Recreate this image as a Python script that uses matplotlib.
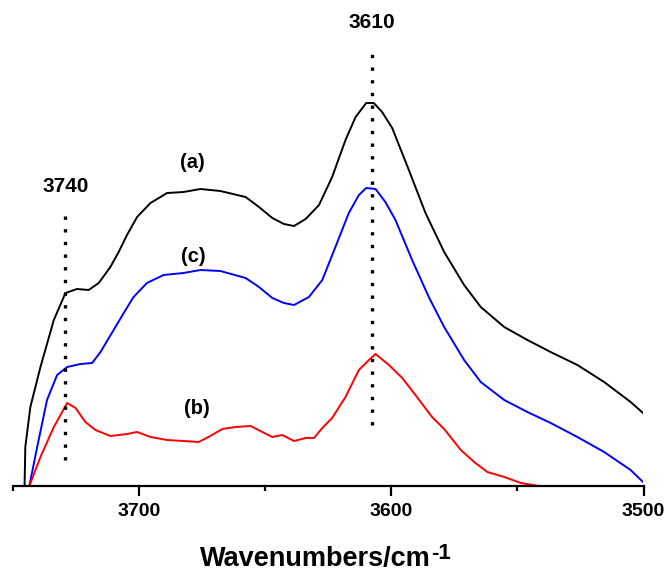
import matplotlib
matplotlib.use("Agg")
import matplotlib.pyplot as plt
from matplotlib.ticker import MultipleLocator

plt.rcParams['font.family'] = ['Liberation Sans', 'DejaVu Sans']

# ---- data (wavenumber, absorbance a.u.) ----
wn_a = [3745.3, 3745.0, 3743.0, 3739.0, 3733.7, 3729.1, 3724.5, 3719.9, 3715.9, 3711.3,
        3708.0, 3704.7, 3700.7, 3695.4, 3688.8, 3682.3, 3675.6, 3667.7, 3657.7, 3652.4,
        3647.1, 3642.5, 3638.5, 3633.9, 3628.6, 3623.4, 3618.1, 3614.1, 3609.9, 3606.9,
        3603.6, 3599.6, 3593.0, 3586.4, 3579.0, 3571.1, 3564.5, 3555.2, 3546.0, 3536.8,
        3526.2, 3515.6, 3505.1, 3500.2]
abs_a = [0.00, 0.39, 0.79, 1.19, 1.66, 1.93, 1.97, 1.96, 2.03, 2.19,
         2.34, 2.51, 2.69, 2.83, 2.93, 2.94, 2.97, 2.95, 2.89, 2.79,
         2.68, 2.62, 2.60, 2.67, 2.81, 3.09, 3.46, 3.69, 3.83, 3.83,
         3.74, 3.58, 3.16, 2.73, 2.34, 2.01, 1.79, 1.59, 1.46, 1.34,
         1.21, 1.04, 0.84, 0.73]

wn_c = [3743.4, 3740.3, 3736.4, 3732.4, 3728.4, 3723.2, 3718.5, 3715.2, 3710.0, 3706.0,
        3702.1, 3696.8, 3690.2, 3682.3, 3675.6, 3667.7, 3657.7, 3652.4, 3647.1, 3642.5,
        3638.5, 3632.6, 3627.3, 3622.1, 3616.8, 3612.8, 3609.9, 3606.2, 3602.3, 3598.3,
        3591.7, 3585.1, 3579.0, 3571.1, 3564.5, 3555.2, 3546.0, 3536.8, 3526.2, 3515.6,
        3505.1, 3500.2]
abs_c = [0.00, 0.39, 0.86, 1.11, 1.19, 1.22, 1.23, 1.34, 1.56, 1.73,
         1.89, 2.03, 2.11, 2.13, 2.16, 2.15, 2.08, 1.99, 1.88, 1.83,
         1.81, 1.89, 2.06, 2.39, 2.73, 2.91, 2.98, 2.97, 2.84, 2.66,
         2.26, 1.89, 1.59, 1.26, 1.04, 0.86, 0.74, 0.63, 0.49, 0.34,
         0.16, 0.04]

wn_b = [3743.4, 3739.0, 3733.7, 3730.4, 3728.4, 3725.1, 3721.2, 3717.2, 3711.3, 3704.7,
        3700.7, 3695.4, 3688.8, 3682.3, 3676.3, 3671.7, 3666.9, 3661.7, 3655.7, 3651.1,
        3647.1, 3643.2, 3638.5, 3633.9, 3630.6, 3627.3, 3623.4, 3618.1, 3612.8, 3608.8,
        3606.2, 3600.9, 3595.6, 3590.4, 3583.8, 3579.0, 3572.4, 3567.1, 3561.9, 3555.2,
        3548.6, 3541.4]
abs_b = [0.00, 0.29, 0.59, 0.74, 0.83, 0.78, 0.64, 0.56, 0.50, 0.52,
         0.54, 0.49, 0.46, 0.45, 0.44, 0.50, 0.57, 0.59, 0.60, 0.54,
         0.49, 0.51, 0.45, 0.48, 0.48, 0.58, 0.68, 0.89, 1.16, 1.26,
         1.32, 1.21, 1.08, 0.91, 0.69, 0.57, 0.36, 0.24, 0.14, 0.09,
         0.03, 0.00]

peak_pos = [3729.1, 3607.6]
peak_ymin = [0.26, 0.61]
peak_ymax = [2.71, 4.36]
peak_labels = ["3740", "3610"]
peak_label_y = [2.99, 4.63]

curve_labels = ["(a)", "(c)", "(b)"]
curve_label_x = [3678.9, 3678.3, 3677.0]
curve_label_y = [3.24, 2.29, 0.78]

xticks_major = [3700, 3600, 3500]

# ---- figure ----
fig = plt.figure(figsize=(6.66, 5.73), dpi=100)
ax = fig.add_axes([12.7 / 666, 87 / 573, (643.5 - 12.7) / 666, 466 / 573])

ax.plot(wn_a, abs_a, color='black', lw=1.4)
ax.plot(wn_c, abs_c, color='#0000ff', lw=1.4)
ax.plot(wn_b, abs_b, color='#ff0000', lw=1.4)

for xp, y0, y1 in zip(peak_pos, peak_ymin, peak_ymax):
    ax.plot([xp, xp], [y0, y1], color='black', lw=2.4, linestyle=(0, (1, 2.8)))

for lab, xp, yl in zip(peak_labels, peak_pos, peak_label_y):
    ax.text(xp, yl, lab, ha='center', va='center', fontsize=15,
            fontweight='bold', clip_on=False)

for lab, xl, yl in zip(curve_labels, curve_label_x, curve_label_y):
    ax.text(xl, yl, lab, ha='center', va='center', fontsize=14.5, fontweight='bold')

ax.set_xlim(3750, 3500)
ax.set_ylim(0, 4.66)
ax.set_xticks(xticks_major)
ax.set_xticklabels([str(t) for t in xticks_major])
ax.xaxis.set_minor_locator(MultipleLocator(50))
ax.set_yticks([])
for s in ['top', 'right', 'left']:
    ax.spines[s].set_visible(False)
ax.spines['bottom'].set_linewidth(1.6)
ax.tick_params(axis='x', which='major', direction='out', length=7.5, width=1.6,
               labelsize=14, pad=5)
ax.tick_params(axis='x', which='minor', direction='out', length=3.5, width=1.6)
for lbl in ax.get_xticklabels():
    lbl.set_fontweight('bold')

# x-axis title with raised "-1"
fig.text(200 / 666, 1 - 566 / 573, 'Wavenumbers/cm', fontsize=19.5,
         fontweight='bold', ha='left', va='baseline')
fig.text(431 / 666, 1 - 559 / 573, '-1', fontsize=16,
         fontweight='bold', ha='left', va='baseline')

fig.savefig('out.png', dpi=100)
